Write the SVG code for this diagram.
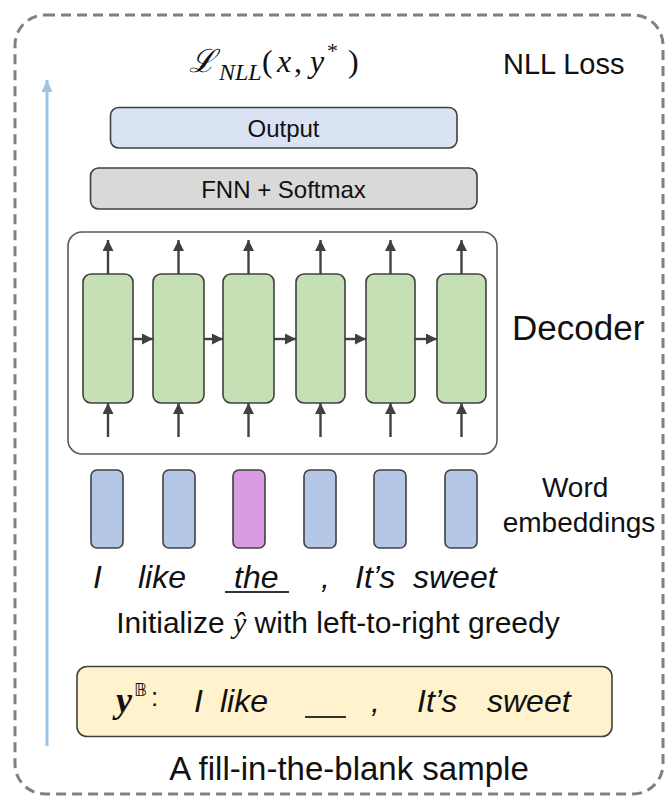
<svg xmlns="http://www.w3.org/2000/svg" width="669" height="798" viewBox="0 0 669 798">
  <style>
    .sans { font-family: "Liberation Sans", Arial, sans-serif; fill: #111; }
    .it { font-style: italic; }
    .serif { font-family: "Liberation Serif", "DejaVu Serif", serif; fill: #111; }
    .box { stroke: #404040; stroke-width: 1.6; }
    .cell { fill: #c5e0b4; stroke: #404040; stroke-width: 1.6; }
    .emb { fill: #b4c7e7; stroke: #404040; stroke-width: 1.6; }
    .emb.pick { fill: #d99ce0; }
    .link { stroke: #404040; stroke-width: 2.4; fill: none; marker-end: url(#head); }
  </style>
  <defs>
    <marker id="head" markerUnits="userSpaceOnUse" markerWidth="12" markerHeight="12" refX="11" refY="5.5" orient="auto">
      <path d="M0,0 L11,5.5 L0,11 Z" fill="#404040"/>
    </marker>
    <marker id="bluehead" markerUnits="userSpaceOnUse" markerWidth="12" markerHeight="14" refX="12" refY="5.5" orient="auto">
      <path d="M0,0 L12,5.5 L0,11 Z" fill="#9dc3e6"/>
    </marker>
  </defs>

  <rect width="669" height="798" fill="#ffffff"/>

  <!-- outer dashed frame -->
  <g id="frame">
    <rect x="15" y="15" width="648" height="779" rx="30" fill="none" stroke="#808080" stroke-width="3" stroke-dasharray="10 6"/>
  </g>

  <!-- loss label -->
  <g id="loss">
    <text class="serif" font-size="32" y="72">
      <tspan x="189" font-family="DejaVu Serif, serif" font-style="italic">ℒ</tspan>
      <tspan x="219" y="80" font-size="24" font-style="italic">NLL</tspan>
      <tspan x="262" y="72">(</tspan>
      <tspan x="277" font-style="italic">x</tspan>
      <tspan x="294">,</tspan>
      <tspan x="310" font-style="italic">y</tspan>
      <tspan x="327" y="58" font-size="22">*</tspan>
      <tspan x="348" y="72">)</tspan>
    </text>
    <text class="sans" x="503" y="74" font-size="29">NLL Loss</text>
  </g>

  <g id="output">
    <rect class="box" x="110.5" y="107.5" width="346.5" height="40.5" rx="8" fill="#dae3f3"/>
    <text class="sans" x="283.5" y="137" font-size="24" text-anchor="middle">Output</text>
  </g>

  <g id="fnn">
    <rect class="box" x="90.5" y="168" width="386.5" height="41" rx="8" fill="#d9d9d9"/>
    <text class="sans" x="283.5" y="198" font-size="24" text-anchor="middle">FNN + Softmax</text>
  </g>

  <g id="decoder">
    <rect x="68" y="232" width="429" height="222" rx="14" fill="#ffffff" stroke="#595959" stroke-width="1.6"/>
    <rect class="cell" x="83" y="274" width="50" height="129" rx="8"/>
    <rect class="cell" x="153" y="274" width="51" height="129" rx="8"/>
    <rect class="cell" x="223" y="274" width="51" height="129" rx="8"/>
    <rect class="cell" x="296" y="274" width="49" height="129" rx="8"/>
    <rect class="cell" x="366" y="274" width="49" height="129" rx="8"/>
    <rect class="cell" x="437" y="274" width="49" height="129" rx="8"/>
    <text class="sans" x="512" y="340" font-size="35">Decoder</text>
  </g>

  <g id="embeddings">
    <rect class="emb" x="91" y="470" width="32" height="78" rx="6"/>
    <rect class="emb" x="163" y="470" width="32" height="78" rx="6"/>
    <rect class="emb pick" x="233" y="470" width="32" height="78" rx="6"/>
    <rect class="emb" x="304" y="470" width="32" height="78" rx="6"/>
    <rect class="emb" x="374" y="470" width="32" height="78" rx="6"/>
    <rect class="emb" x="445" y="470" width="32" height="78" rx="6"/>
    <text class="sans" font-size="28" text-anchor="middle">
      <tspan x="579" y="497">Word</tspan>
      <tspan x="579" y="532">embeddings</tspan>
    </text>
  </g>

  <g id="sentence">
    <text class="sans it" font-size="32" y="588">
      <tspan x="93">I</tspan>
      <tspan x="138">like</tspan>
      <tspan x="234">the</tspan>
      <tspan x="321">,</tspan>
      <tspan x="355">It’s</tspan>
      <tspan x="413">sweet</tspan>
    </text>
    <line x1="225" y1="592" x2="289" y2="592" stroke="#333" stroke-width="2"/>
    <text class="sans" x="338" y="633" font-size="30" text-anchor="middle">Initialize <tspan class="serif it">ŷ</tspan> with left-to-right greedy</text>
  </g>

  <g id="sample">
    <rect class="box" x="77" y="666.5" width="535" height="70" rx="10" fill="#fff2cc"/>
    <text class="serif" font-size="36" font-weight="bold" font-style="italic" x="116" y="712">y</text>
    <text font-family="DejaVu Sans, sans-serif" font-size="18" x="134" y="696" fill="#111">𝔹</text>
    <text class="sans" font-size="26" x="151" y="706">:</text>
    <text class="sans it" font-size="32" y="712">
      <tspan x="194">I</tspan>
      <tspan x="220">like</tspan>
      <tspan x="371">,</tspan>
      <tspan x="417">It’s</tspan>
      <tspan x="487">sweet</tspan>
    </text>
    <line x1="305" y1="717" x2="346" y2="717" stroke="#333" stroke-width="2"/>
    <text class="sans" x="349" y="780" font-size="33" text-anchor="middle">A fill-in-the-blank sample</text>
  </g>

  <!-- connectors -->
  <g id="connectors">
    <line x1="47" y1="746" x2="47" y2="80" stroke="#9dc3e6" stroke-width="3" marker-end="url(#bluehead)"/>
    <!-- outputs of each step -->
    <line class="link" x1="108" y1="274" x2="108" y2="240"/>
    <line class="link" x1="178.5" y1="274" x2="178.5" y2="240"/>
    <line class="link" x1="248.5" y1="274" x2="248.5" y2="240"/>
    <line class="link" x1="320.5" y1="274" x2="320.5" y2="240"/>
    <line class="link" x1="390.5" y1="274" x2="390.5" y2="240"/>
    <line class="link" x1="461.5" y1="274" x2="461.5" y2="240"/>
    <!-- inputs of each step -->
    <line class="link" x1="108" y1="437" x2="108" y2="403"/>
    <line class="link" x1="178.5" y1="437" x2="178.5" y2="403"/>
    <line class="link" x1="248.5" y1="437" x2="248.5" y2="403"/>
    <line class="link" x1="320.5" y1="437" x2="320.5" y2="403"/>
    <line class="link" x1="390.5" y1="437" x2="390.5" y2="403"/>
    <line class="link" x1="461.5" y1="437" x2="461.5" y2="403"/>
    <!-- recurrent state -->
    <line class="link" x1="133" y1="339" x2="153" y2="339"/>
    <line class="link" x1="204" y1="339" x2="223" y2="339"/>
    <line class="link" x1="274" y1="339" x2="296" y2="339"/>
    <line class="link" x1="345" y1="339" x2="366" y2="339"/>
    <line class="link" x1="415" y1="339" x2="437" y2="339"/>
  </g>
</svg>
